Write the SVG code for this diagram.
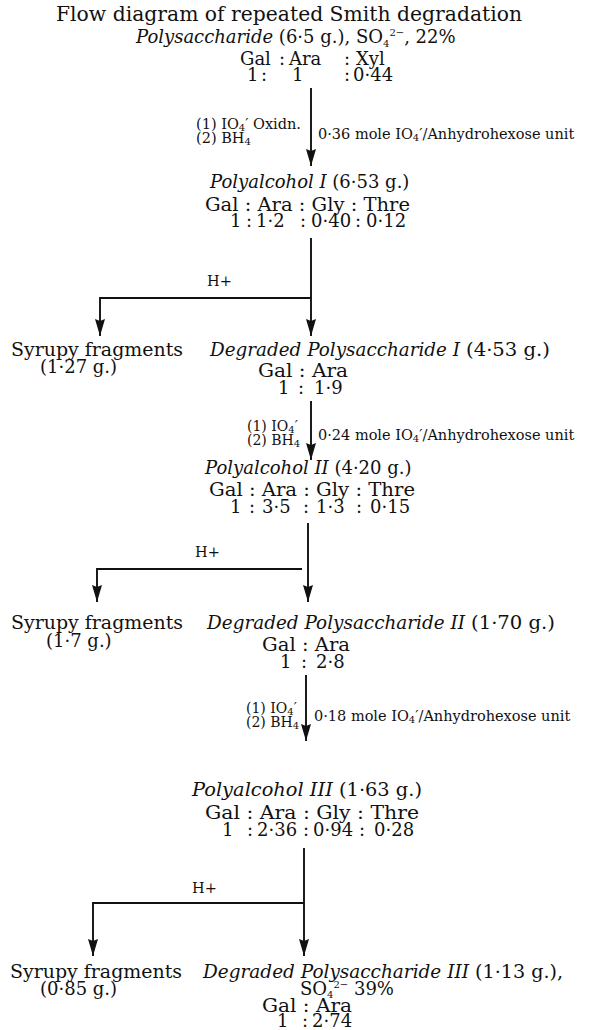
<svg xmlns="http://www.w3.org/2000/svg" width="589" height="1030" viewBox="0 0 589 1030">
<style>
text{font-family:"DejaVu Serif","Liberation Serif",serif;fill:#111;font-size:18px}
.i{font-style:italic}
.t{font-size:20px}
.s{font-size:14.5px}
.sl{font-size:14px}
.sb{font-size:10px}
.ln{stroke:#111;stroke-width:1.9;fill:none}
.ar{marker-end:url(#ah)}
</style>
<defs>
<marker id="ah" viewBox="0 0 17 10" refX="17" refY="5" markerWidth="17" markerHeight="10" markerUnits="userSpaceOnUse" orient="auto"><path d="M0,0 L17,5 L0,10 L2,5 z" fill="#111"/></marker>
</defs>
<rect width="589" height="1030" fill="#fff"/>

<g id="title"><text class="t" x="56" y="21" textLength="466" lengthAdjust="spacingAndGlyphs">Flow diagram of repeated Smith degradation</text></g>

<g id="node-polysaccharide">
<text x="136" y="43"><tspan class="i">Polysaccharide</tspan> (6·5 g.), SO<tspan class="sb" dy="4">4</tspan><tspan class="sb" dy="-11">2−</tspan><tspan dy="7">, 22%</tspan></text>
<text y="65"><tspan x="240">Gal</tspan><tspan x="279">:</tspan><tspan x="289">Ara</tspan><tspan x="344">:</tspan><tspan x="356">Xyl</tspan></text>
<text y="81"><tspan x="247">1</tspan><tspan x="261">:</tspan><tspan x="292">1</tspan><tspan x="344">:</tspan><tspan x="353">0·44</tspan></text>
</g>

<g id="node-polyalcohol1">
<text x="210" y="188"><tspan class="i">Polyalcohol I</tspan> (6·53 g.)</text>
<text x="205" y="211" textLength="205" lengthAdjust="spacingAndGlyphs">Gal : Ara : Gly : Thre</text>
<text y="227"><tspan x="230">1</tspan><tspan x="246">:</tspan><tspan x="256">1·2</tspan><tspan x="300">:</tspan><tspan x="311">0·40</tspan><tspan x="355">:</tspan><tspan x="366">0·12</tspan></text>
</g>

<g id="node-syrupy1">
<text x="11" y="356" textLength="172" lengthAdjust="spacingAndGlyphs">Syrupy fragments</text>
<text x="40" y="373">(1·27 g.)</text>
</g>

<g id="node-degraded1">
<text class="i" x="210" y="356" textLength="250" lengthAdjust="spacingAndGlyphs">Degraded Polysaccharide I</text>
<text x="466" y="356" textLength="84" lengthAdjust="spacingAndGlyphs">(4·53 g.)</text>
<text x="258" y="377" textLength="90" lengthAdjust="spacingAndGlyphs">Gal : Ara</text>
<text y="394"><tspan x="278">1</tspan><tspan x="298">:</tspan><tspan x="314">1·9</tspan></text>
</g>

<g id="node-polyalcohol2">
<text x="205" y="474"><tspan class="i">Polyalcohol II</tspan> (4·20 g.)</text>
<text x="209" y="496" textLength="206" lengthAdjust="spacingAndGlyphs">Gal : Ara : Gly : Thre</text>
<text y="513"><tspan x="230">1</tspan><tspan x="249">:</tspan><tspan x="262">3·5</tspan><tspan x="303">:</tspan><tspan x="316">1·3</tspan><tspan x="356">:</tspan><tspan x="370">0·15</tspan></text>
</g>

<g id="node-syrupy2">
<text x="11" y="629" textLength="172" lengthAdjust="spacingAndGlyphs">Syrupy fragments</text>
<text x="46" y="647">(1·7 g.)</text>
</g>

<g id="node-degraded2">
<text class="i" x="207" y="629" textLength="258" lengthAdjust="spacingAndGlyphs">Degraded Polysaccharide II</text>
<text x="471" y="629" textLength="84" lengthAdjust="spacingAndGlyphs">(1·70 g.)</text>
<text x="262" y="651" textLength="88" lengthAdjust="spacingAndGlyphs">Gal : Ara</text>
<text y="668"><tspan x="280">1</tspan><tspan x="301">:</tspan><tspan x="316">2·8</tspan></text>
</g>

<g id="node-polyalcohol3">
<text x="192" y="796" textLength="230" lengthAdjust="spacingAndGlyphs"><tspan class="i">Polyalcohol III</tspan> (1·63 g.)</text>
<text x="205" y="819" textLength="214" lengthAdjust="spacingAndGlyphs">Gal : Ara : Gly : Thre</text>
<text y="836"><tspan x="222">1</tspan><tspan x="247">:</tspan><tspan x="257">2·36</tspan><tspan x="303">:</tspan><tspan x="313">0·94</tspan><tspan x="359">:</tspan><tspan x="374">0·28</tspan></text>
</g>

<g id="node-syrupy3">
<text x="10" y="978" textLength="172" lengthAdjust="spacingAndGlyphs">Syrupy fragments</text>
<text x="40" y="995">(0·85 g.)</text>
</g>

<g id="node-degraded3">
<text class="i" x="203" y="978" textLength="266" lengthAdjust="spacingAndGlyphs">Degraded Polysaccharide III</text>
<text x="475" y="978" textLength="88" lengthAdjust="spacingAndGlyphs">(1·13 g.),</text>
<text x="300" y="995">SO<tspan class="sb" dy="3">4</tspan><tspan class="sb" dy="-10">2−</tspan><tspan dy="7"> 39%</tspan></text>
<text x="262" y="1012" textLength="90" lengthAdjust="spacingAndGlyphs">Gal : Ara</text>
<text y="1027"><tspan x="277">1</tspan><tspan x="302">:</tspan><tspan x="312">2·74</tspan></text>
</g>

<g id="connectors">
<line class="ln ar" x1="311" y1="88" x2="311" y2="166"/>
<text class="s" x="196" y="129">(1) IO<tspan class="sb" dy="2">4</tspan><tspan dy="-2">′ Oxidn.</tspan></text>
<text class="s" x="196" y="143">(2) BH<tspan class="sb" dy="2">4</tspan></text>
<text class="s" x="318" y="139">0·36 mole IO<tspan class="sb" dy="2">4</tspan><tspan dy="-2">′/Anhydrohexose unit</tspan></text>

<line class="ln ar" x1="311" y1="238" x2="311" y2="336"/>
<polyline class="ln ar" points="311,298 100,298 100,336"/>
<text class="s" x="207" y="286">H+</text>

<line class="ln ar" x1="311" y1="401" x2="311" y2="460"/>
<text class="sl" x="247" y="431">(1) IO<tspan class="sb" dy="2">4</tspan><tspan dy="-2">′</tspan></text>
<text class="sl" x="247" y="445">(2) BH<tspan class="sb" dy="2">4</tspan></text>
<text class="s" x="318" y="440">0·24 mole IO<tspan class="sb" dy="2">4</tspan><tspan dy="-2">′/Anhydrohexose unit</tspan></text>

<line class="ln ar" x1="308" y1="523" x2="308" y2="602"/>
<polyline class="ln ar" points="302,569 97,569 97,602"/>
<text class="s" x="195" y="557">H+</text>

<line class="ln ar" x1="306" y1="675" x2="306" y2="741"/>
<text class="sl" x="246" y="713">(1) IO<tspan class="sb" dy="2">4</tspan><tspan dy="-2">′</tspan></text>
<text class="sl" x="246" y="727">(2) BH<tspan class="sb" dy="2">4</tspan></text>
<text class="s" x="314" y="721">0·18 mole IO<tspan class="sb" dy="2">4</tspan><tspan dy="-2">′/Anhydrohexose unit</tspan></text>

<line class="ln ar" x1="304" y1="848" x2="304" y2="956"/>
<polyline class="ln ar" points="304,903 93,903 93,956"/>
<text class="s" x="192" y="893">H+</text>
</g>
</svg>
